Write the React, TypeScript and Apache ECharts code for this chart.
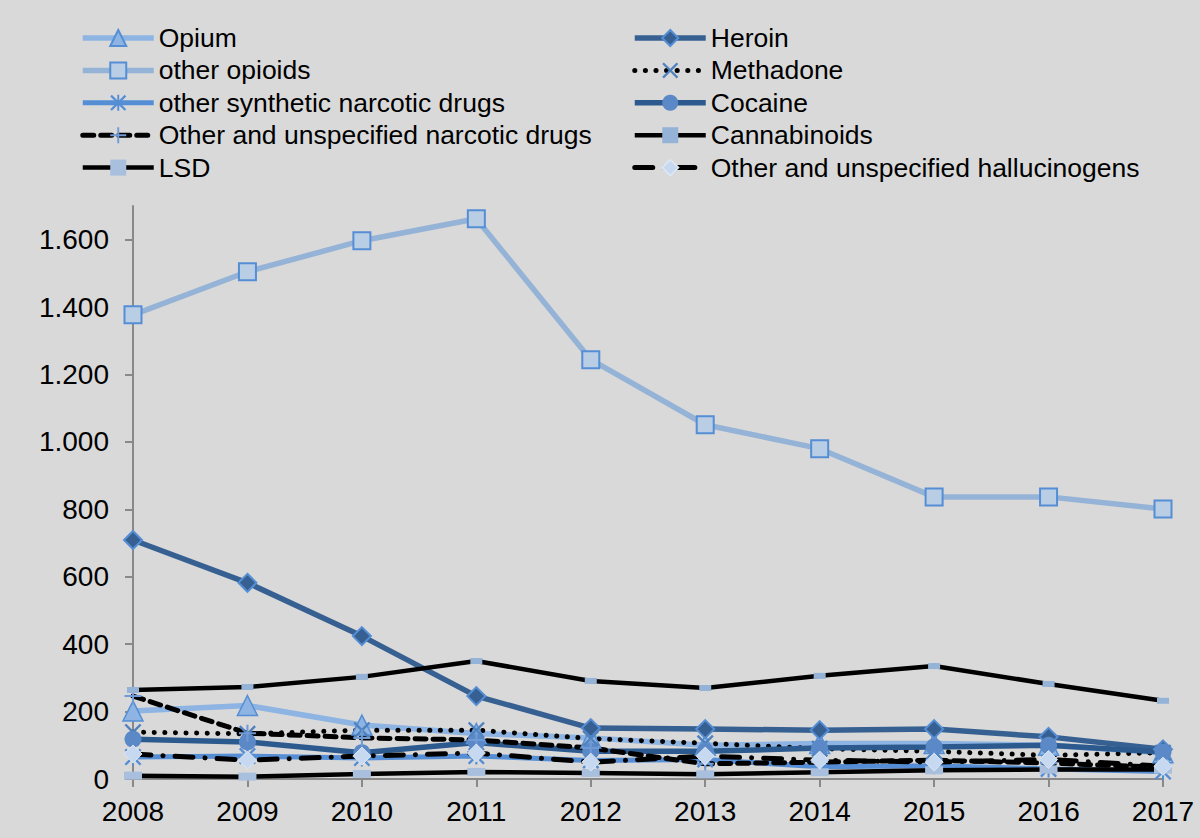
import React, { useEffect, useRef } from "react";
import * as echarts from "echarts";

const years = ["2008", "2009", "2010", "2011", "2012", "2013", "2014", "2015", "2016", "2017"];
const opium = [202, 218, 160, 135, 122, 100, 105, 105, 100, 78];
const heroin = [709, 582, 424, 246, 151, 148, 145, 148, 125, 88];
const otherOpioids = [1377, 1505, 1597, 1662, 1244, 1051, 980, 837, 837, 801];
const methadone = [139, 134, 145, 145, 120, 106, 90, 82, 70, 78];
const otherSynthetic = [65, 68, 62, 68, 55, 58, 36, 39, 30, 22];
const cocaine = [118, 110, 78, 108, 82, 82, 92, 95, 100, 80];
const otherNarcotic = [246, 136, 122, 116, 92, 45, 50, 56, 47, 35];
const cannabinoids = [264, 273, 303, 350, 291, 270, 306, 335, 282, 232];
const lsd = [10, 7, 15, 21, 18, 14, 20, 26, 28, 28];
const hallucinogens = [74, 56, 68, 77, 50, 68, 56, 50, 58, 38];
const yTicks = [0, 200, 400, 600, 800, 1000, 1200, 1400, 1600];

const X_PATH = "path://M1,0L5,4L9,0L10,1L6,5L10,9L9,10L5,6L1,10L0,9L4,5L0,1Z";
const STAR_PATH = "path://M1,0L5,4L9,0L10,1L6,5L10,9L9,10L5,6L1,10L0,9L4,5L0,1Z M4.4,0H5.6V10H4.4Z";
const PLUS_PATH = "path://M4.4,0H5.6V4.4H10V5.6H5.6V10H4.4V5.6H0V4.4H4.4Z";

const fmt = (v: number) => String(v).replace(/\B(?=(\d{3})+(?!\d))/g, ".");

export default function App() {
  const ref = useRef<HTMLDivElement>(null);
  useEffect(() => {
    if (!ref.current) return;
    const chart = echarts.init(ref.current, null, { renderer: "svg" });
    const font = "'Liberation Sans', Arial, sans-serif";
    const legendBase = {
      orient: "vertical",
      top: 24.5,
      itemWidth: 71,
      itemHeight: 20,
      itemGap: 5.4,
      selectedMode: false,
      lineStyle: { width: "inherit" },
      textStyle: { fontFamily: font, fontSize: 26.5, color: "#000", padding: [0, 0, 0, 0] },
      padding: 0,
    };
    chart.setOption({
      animation: false,
      backgroundColor: "#d9d9d9",
      textStyle: { fontFamily: font },
      legend: [
        {
          ...legendBase,
          left: 80,
          data: ["Opium", "other opioids", "other synthetic narcotic drugs", "Other and unspecified narcotic drugs", "LSD"],
        },
        {
          ...legendBase,
          left: 632,
          data: ["Heroin", "Methadone", "Cocaine", "Cannabinoids", "Other and unspecified hallucinogens"],
        },
      ],
      grid: { left: 133, right: 37, top: 206, bottom: 59 },
      xAxis: {
        type: "category",
        data: years,
        boundaryGap: false,
        axisLine: { lineStyle: { color: "#898989", width: 2 } },
        axisTick: { show: true, length: 8, lineStyle: { color: "#898989", width: 2 } },
        axisLabel: { fontFamily: font, fontSize: 28, color: "#000", margin: 18.5 },
        splitLine: { show: false },
      },
      yAxis: {
        type: "value",
        min: 0,
        max: 1700,
        interval: 200,
        axisLine: { show: true, lineStyle: { color: "#898989", width: 2 } },
        axisTick: { show: true, length: 8, lineStyle: { color: "#898989", width: 2 }, customValues: yTicks },
        axisLabel: {
          fontFamily: font,
          fontSize: 28,
          color: "#000",
          margin: 24,
          customValues: yTicks,
          formatter: (v: number) => (v > 1600 ? "" : fmt(v)),
        },
        splitLine: { show: false },
      },
      series: [
        {
          name: "Opium",
          type: "line",
          data: opium,
          symbol: "triangle",
          symbolSize: 20,
          lineStyle: { color: "#8db4e2", width: 5.5 },
          itemStyle: { color: "#8db4e2", borderColor: "#558ed5", borderWidth: 1.5 },
        },
        {
          name: "Heroin",
          type: "line",
          data: heroin,
          symbol: "diamond",
          symbolSize: 18,
          lineStyle: { color: "#376092", width: 5.5 },
          itemStyle: { color: "#376092", borderColor: "#558ed5", borderWidth: 2 },
        },
        {
          name: "other opioids",
          type: "line",
          data: otherOpioids,
          symbol: "rect",
          symbolSize: 17,
          lineStyle: { color: "#95b3d7", width: 5.5 },
          itemStyle: { color: "#b9cde5", borderColor: "#558ed5", borderWidth: 2 },
        },
        {
          name: "Methadone",
          type: "line",
          data: methadone,
          symbol: X_PATH,
          symbolSize: 17,
          lineStyle: { color: "#000", width: 5, type: [0.1, 10.5], cap: "round" },
          itemStyle: { color: "#4f81bd" },
        },
        {
          name: "other synthetic narcotic drugs",
          type: "line",
          data: otherSynthetic,
          symbol: STAR_PATH,
          symbolSize: 17,
          lineStyle: { color: "#558ed5", width: 5 },
          itemStyle: { color: "#558ed5" },
        },
        {
          name: "Cocaine",
          type: "line",
          data: cocaine,
          symbol: "circle",
          symbolSize: 17,
          lineStyle: { color: "#2c5a8e", width: 5.5 },
          itemStyle: { color: "#5b88c6" },
        },
        {
          name: "Other and unspecified narcotic drugs",
          type: "line",
          data: otherNarcotic,
          symbol: PLUS_PATH,
          symbolSize: 17,
          lineStyle: { color: "#000", width: 5, type: [11, 7], cap: "round" },
          itemStyle: { color: "#6f9ad6" },
        },
        {
          name: "Cannabinoids",
          type: "line",
          data: cannabinoids,
          symbol: "rect",
          symbolSize: [12, 6],
          lineStyle: { color: "#000", width: 4.5 },
          itemStyle: { color: "#95b3d7" },
        },
        {
          name: "LSD",
          type: "line",
          data: lsd,
          symbol: "rect",
          symbolSize: [18, 8],
          lineStyle: { color: "#000", width: 4.5 },
          itemStyle: { color: "#a8bfdd" },
        },
        {
          name: "Other and unspecified hallucinogens",
          type: "line",
          data: hallucinogens,
          symbol: "diamond",
          symbolSize: 18,
          lineStyle: { color: "#000", width: 5, type: [18, 12, 0.1, 12], cap: "round" },
          itemStyle: { color: "#c6d9f1", borderColor: "#dce6f2", borderWidth: 1 },
        },
      ],
    });
    return () => chart.dispose();
  }, []);
  return (
    <div
      ref={ref}
      style={{ position: "fixed", left: 0, top: 0, width: 1200, height: 838 }}
    />
  );
}
